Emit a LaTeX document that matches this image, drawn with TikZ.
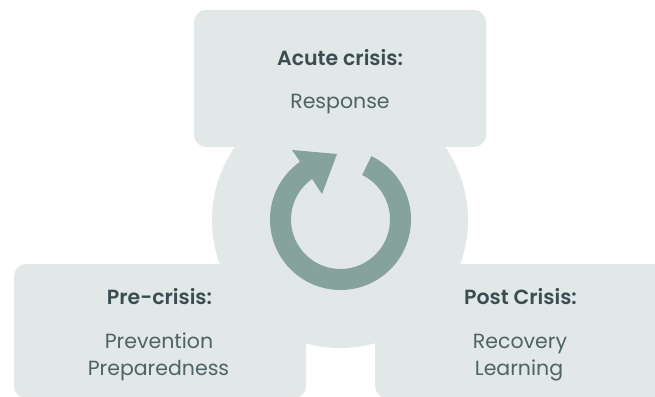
\documentclass[tikz,border=0pt]{standalone}
\usepackage{fontspec}
\setmainfont{Poppins}[BoldFont={* SemiBold}]
\usetikzlibrary{positioning}

\definecolor{phasefill}{HTML}{E1E8E7}
\definecolor{cyclecol}{HTML}{85A29D}
\definecolor{headcol}{HTML}{3B4D51}
\definecolor{textcol}{HTML}{4F6265}

\begin{document}
\begin{tikzpicture}[x=1pt,y=1pt,
  phase/.style={rectangle, fill=phasefill, rounded corners=12pt, minimum width=292pt, inner sep=0pt},
  head/.style={anchor=base, text=headcol, font=\fontsize{20.5}{24}\selectfont\bfseries},
  item/.style={anchor=base, text=textcol, font=\fontsize{20.5}{24}\selectfont}]
\useasboundingbox (0,0) rectangle (655,396);

% background disc and the three phase boxes
\node[circle, fill=phasefill, minimum size=256pt, inner sep=0pt] (hub) at (340,176) {};
\node[phase, minimum height=137pt] (acutebox) at (340,317.5) {};
\node[phase, minimum height=134pt] (prebox) at (160,65) {};
\node[phase, minimum height=134pt] (postbox) at (521,65) {};

% cycle arrow in the middle
\coordinate (c) at (340.5,176.5);
\fill[cyclecol] ([shift={(c)}]64:70.5) arc[start angle=64, end angle=-235, radius=70.5]
  -- (292,246) -- (337,242) -- (322,202)
  -- ([shift={(c)}]125:49.5) arc[start angle=-235, end angle=64, radius=49.5] -- cycle;

% labels
\node[head] (acute) at (340,330.3) {Acute crisis:};
\node[item] (response) at (340,287.7) {Response};

\node[head] (pre) at (159.5,91) {Pre-crisis:};
\node[item] (prevention) at (159,47.7) {Prevention};
\node[item] (preparedness) at (158.5,20.5) {Preparedness};

\node[head] (post) at (520.5,91) {Post Crisis:};
\node[item] (recovery) at (520,47.7) {Recovery};
\node[item] (learning) at (519,20.5) {Learning};
\end{tikzpicture}
\end{document}
